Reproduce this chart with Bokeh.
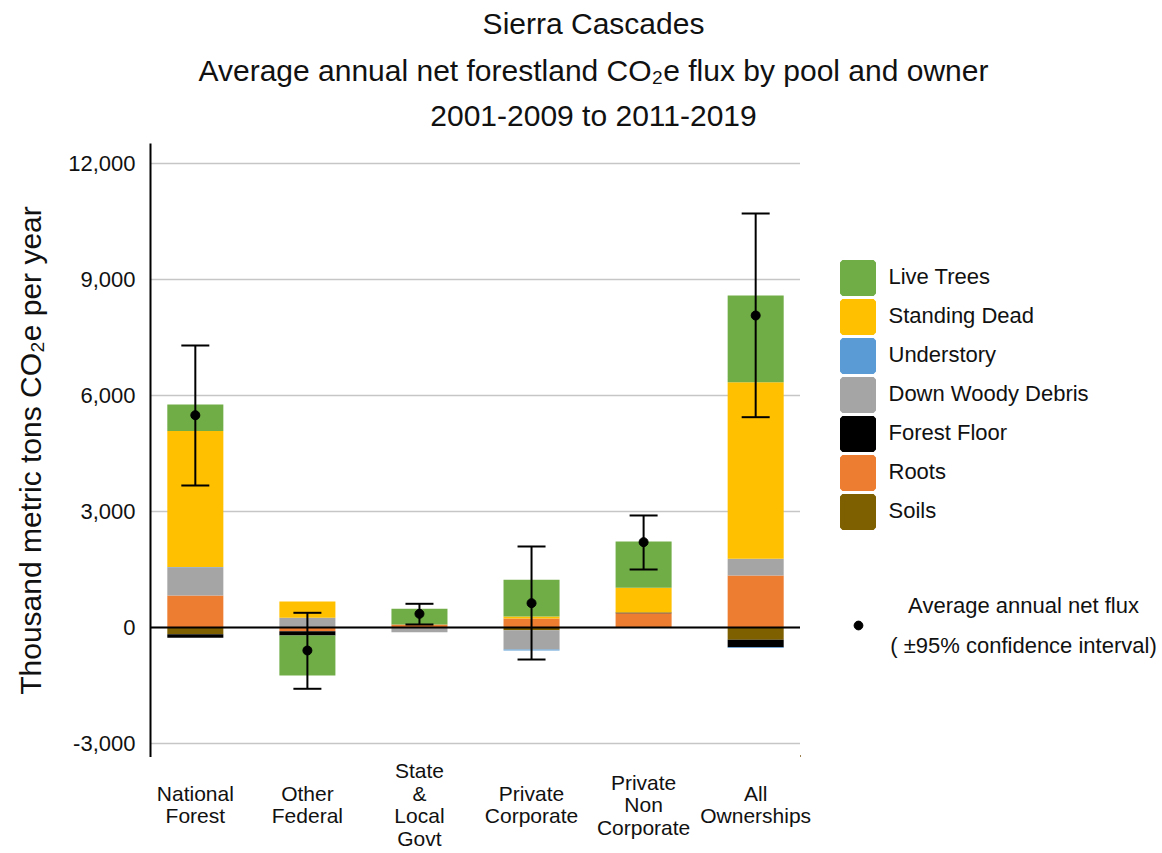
from bokeh.plotting import figure
from bokeh.layouts import column, row
from bokeh.models import (ColumnDataSource, Range1d, FixedTicker, NumeralTickFormatter,
                          Span, Whisker, TeeHead, Legend, LegendItem, Label, LabelSet)
from bokeh.core.properties import value
from bokeh.embed import file_html
from bokeh.resources import INLINE

# ---------------- data (thousand metric tons CO2e per year) ----------------
categories = ["National\nForest", "Other\nFederal", "State\n&\nLocal\nGovt",
              "Private\nCorporate", "Private\nNon\nCorporate", "All\nOwnerships"]

live_trees = [682, -1030, 405, 949, 1198, 2242]
standing_dead = [3517, 422, 0, 50, 641, 4568]
understory = [5, 0, 0, -25, 0, -20]
down_woody_debris = [732, 250, -120, -500, 0, 431]
forest_floor = [-90, -110, 0, 0, 15, -190]
roots = [828, -100, 78, 233, 370, 1345]
soils = [-172, 0, 0, -70, 0, -318]

net_flux = [5490, -595, 354, 629, 2207, 8069]
ci_lower = [3672, -1585, 78, -828, 1500, 5439]
ci_upper = [7293, 380, 613, 2095, 2897, 10706]

yticks = [-3000, 0, 3000, 6000, 9000, 12000]

title_lines = ["Sierra Cascades",
               "Average annual net forestland CO\u2082e flux by pool and owner",
               "2001-2009 to 2011-2019"]
y_title = "Thousand metric tons CO\u2082e per year"
flux_legend_lines = ["Average annual net flux", "( \u00b195% confidence interval)"]

# stacking order from zero outward, and legend order (top to bottom)
pool_keys = ["soils", "roots", "forest_floor", "down_woody_debris", "understory",
             "standing_dead", "live_trees"]
pool_names = {"live_trees": "Live Trees", "standing_dead": "Standing Dead",
              "understory": "Understory", "down_woody_debris": "Down Woody Debris",
              "forest_floor": "Forest Floor", "roots": "Roots", "soils": "Soils"}
pool_colors = {"live_trees": "#70AD47", "standing_dead": "#FFC000",
               "understory": "#5B9BD5", "down_woody_debris": "#A5A5A5",
               "forest_floor": "#000000", "roots": "#ED7D31", "soils": "#7F6000"}
pool_values = {"live_trees": live_trees, "standing_dead": standing_dead,
               "understory": understory, "down_woody_debris": down_woody_debris,
               "forest_floor": forest_floor, "roots": roots, "soils": soils}
legend_order = ["live_trees", "standing_dead", "understory", "down_woody_debris",
                "forest_floor", "roots", "soils"]

FONT = "Liberation Sans"
TXT = "#111111"

xs = list(range(len(categories)))
data = {"x": xs, "net": net_flux, "lo": ci_lower, "hi": ci_upper}
for k in pool_keys:
    data["pos_" + k] = [max(v, 0) for v in pool_values[k]]
    data["neg_" + k] = [min(v, 0) for v in pool_values[k]]
src = ColumnDataSource(data)

# ---------------- layout geometry (pixels) ----------------
W, TH, MH, CH = 1160, 143, 614, 94
LEFT, FRAME_W = 150, 650
X0, X1 = -0.4, 5.4
px_per_unit = FRAME_W / (X1 - X0)


def blank(fig):
    fig.outline_line_color = None
    fig.background_fill_color = "white"
    fig.border_fill_color = "white"
    fig.xgrid.visible = False
    fig.ygrid.visible = False


def strip(width, height, xrange, yrange, left=0):
    f = figure(width=width, height=height, x_range=xrange, y_range=yrange,
               x_axis_location=None, y_axis_location=None,
               output_backend="svg", toolbar_location=None,
               min_border_left=left, min_border_right=0,
               min_border_top=0, min_border_bottom=0)
    blank(f)
    return f


# ---------------- title strip (frame aligned with the chart's left border) ----------------
tfig = strip(W, TH, Range1d(LEFT, W), Range1d(0, TH), left=LEFT)
for txt, yy in zip(title_lines, [120, 73, 28]):
    tfig.add_layout(Label(x=593, y=yy, text=txt, text_align="center",
                          text_baseline="middle", text_font=FONT,
                          text_font_size="30px", text_color=TXT))

# ---------------- main chart ----------------
p = figure(width=LEFT + FRAME_W, height=MH, x_range=Range1d(X0, X1),
           y_range=Range1d(-3362, 12517), x_axis_location=None,
           output_backend="svg", toolbar_location=None,
           min_border_left=LEFT, min_border_right=0,
           min_border_top=0, min_border_bottom=0)
p.outline_line_color = None
p.background_fill_color = "white"
p.border_fill_color = "white"

p.vbar_stack(["pos_" + k for k in pool_keys], x="x", width=0.5, source=src,
             color=[pool_colors[k] for k in pool_keys], line_color=None)
p.vbar_stack(["neg_" + k for k in pool_keys], x="x", width=0.5, source=src,
             color=[pool_colors[k] for k in pool_keys], line_color=None)

p.add_layout(Span(location=0, dimension="width", line_color="black", line_width=2))

p.add_layout(Whisker(base="x", lower="lo", upper="hi", source=src, level="annotation",
                     line_color="black", line_width=2,
                     upper_head=TeeHead(size=28, line_color="black", line_width=2),
                     lower_head=TeeHead(size=28, line_color="black", line_width=2)))
p.scatter("x", "net", source=src, size=9, color="black", level="overlay")

p.xgrid.visible = False
p.ygrid.grid_line_color = "#c6c6c6"
p.ygrid.grid_line_width = 1.5
p.yaxis.ticker = FixedTicker(ticks=yticks)
p.yaxis.formatter = NumeralTickFormatter(format="0,0")
p.yaxis.major_tick_out = 0
p.yaxis.major_tick_in = 0
p.yaxis.minor_tick_out = 0
p.yaxis.minor_tick_in = 0
p.yaxis.axis_line_color = "black"
p.yaxis.axis_line_width = 2
p.yaxis.major_label_standoff = 15
p.yaxis.major_label_text_font = FONT
p.yaxis.major_label_text_font_size = "22px"
p.yaxis.major_label_text_color = TXT
p.yaxis.axis_label = y_title
p.yaxis.axis_label_text_font = FONT
p.yaxis.axis_label_text_font_size = "30px"
p.yaxis.axis_label_text_font_style = "normal"
p.yaxis.axis_label_text_color = TXT
p.yaxis.axis_label_standoff = 18

# ---------------- legend strip (right of chart) ----------------
LW = W - LEFT - FRAME_W
lfig = strip(LW, MH, Range1d(0, LW), Range1d(0, MH))
leg_src = ColumnDataSource(dict(x=[-50] * len(legend_order), top=[0] * len(legend_order),
                                color=[pool_colors[k] for k in legend_order]))
swatch = lfig.vbar(x="x", top="top", width=0, source=leg_src, fill_color="color",
                   line_color="color", line_width=4.8)
items = [LegendItem(label=pool_names[k], renderers=[swatch], index=i)
         for i, k in enumerate(legend_order)]
leg = Legend(items=items, location=(37.5, 226.5), padding=0, margin=0, spacing=0,
             glyph_width=39, glyph_height=39, label_standoff=12,
             label_text_font=FONT, label_text_font_size="22px",
             label_text_color=TXT, label_text_baseline="middle",
             border_line_alpha=0, background_fill_alpha=0)
lfig.add_layout(leg)

dot_src = ColumnDataSource(dict(x=[-50], y=[0]))
dot_proxy = lfig.scatter(x="x", y="y", source=dot_src, size=0, color="black")
leg2 = Legend(items=[LegendItem(label=" ", renderers=[dot_proxy], index=0)],
              location=(47, 121), padding=0, margin=0, glyph_width=22, glyph_height=22,
              label_standoff=0, border_line_alpha=0, background_fill_alpha=0)
lfig.add_layout(leg2)
for txt, yy in zip(flux_legend_lines, [152, 112]):
    lfig.add_layout(Label(x=223, y=yy, text=txt, text_align="center",
                          text_baseline="middle", text_font=FONT,
                          text_font_size="22px", text_color=TXT))

# ---------------- category labels strip (below chart, full width) ----------------
cfig = strip(W, CH, Range1d(X0, X0 + (W - LEFT) / px_per_unit), Range1d(0, CH), left=LEFT)
LINE_H, MID = 22.5, 47
lx, ly, lt = [], [], []
for i, cat in zip(xs, categories):
    lines = cat.split("\n")
    n = len(lines)
    for j, line in enumerate(lines):
        lx.append(i)
        ly.append(MID + ((n - 1) / 2 - j) * LINE_H)
        lt.append(line)
cfig.add_layout(LabelSet(x="x", y="y", text="t",
                         source=ColumnDataSource(dict(x=lx, y=ly, t=lt)),
                         text_align="center", text_baseline="middle",
                         text_font=value(FONT), text_font_size="21px", text_color=TXT))

layout = column(tfig, row(p, lfig), cfig)
open("out.html", "w").write(file_html(layout, INLINE))
